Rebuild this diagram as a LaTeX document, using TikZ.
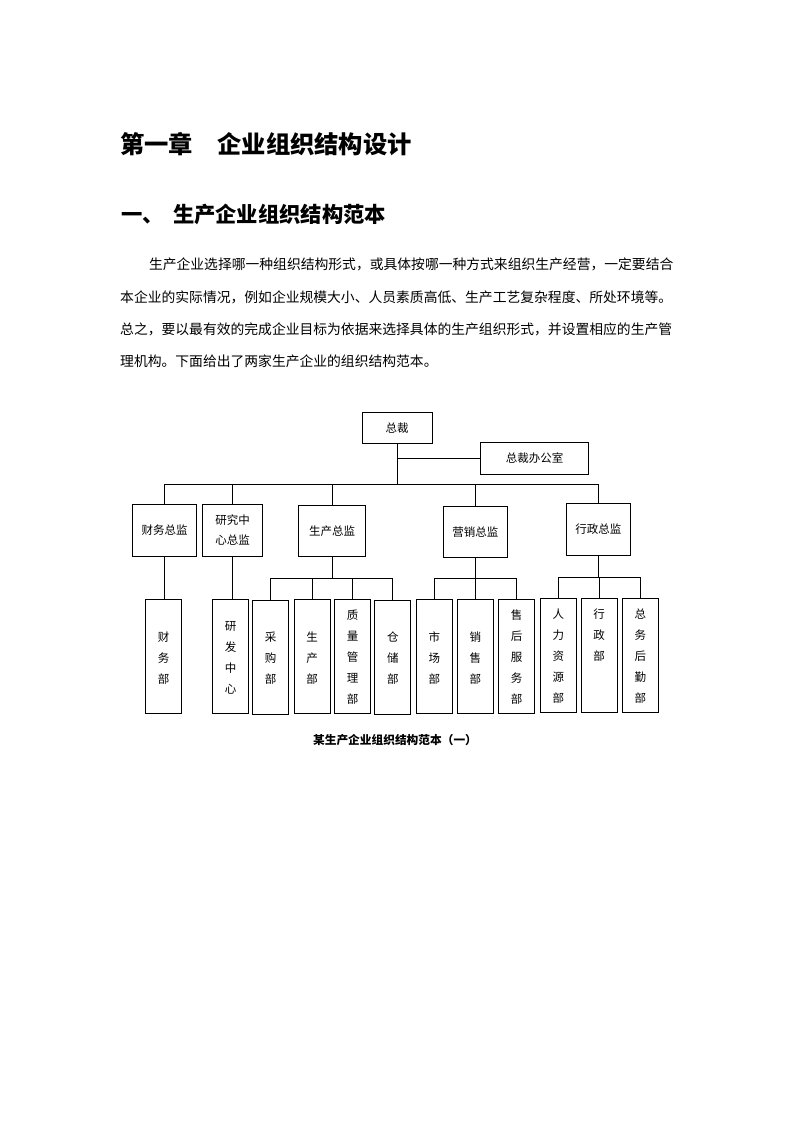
\documentclass[tikz,border=0pt]{standalone}
\usepackage{fontspec}
\newfontfamily\cjk{Noto Sans CJK SC}
\newcommand\dfont{\fontsize{11.5}{20}\selectfont\cjk}
\newcommand\vfont{\fontsize{11.5}{21}\selectfont\cjk}
\begin{document}
\begin{tikzpicture}[x=1pt,y=-1pt,
  box/.style={draw, line width=0.9pt, inner sep=0pt, align=center, font=\dfont},
  vbox/.style={draw, line width=0.9pt, inner sep=0pt, minimum width=36, minimum height=114},
  vlab/.style={font=\vfont, align=center, inner sep=0pt},
  conn/.style={line width=0.9pt},
  txt/.style={inner sep=0pt, anchor=west}]
\path[use as bounding box, fill=white] (0,0) rectangle (793,1122);

% headings and body
\node[txt, font=\fontsize{24.3}{28}\selectfont\cjk\bfseries] (title) at (120,144) {第一章　企业组织结构设计};
\node[txt, font=\fontsize{21.3}{26}\selectfont\cjk\bfseries] (head) at (121,214) {一、\hspace{9.3pt}生产企业组织结构范本};
\node[txt, font=\fontsize{13.8}{16}\selectfont\cjk] (p1) at (148.8,264.8) {生产企业选择哪一种组织结构形式，或具体按哪一种方式来组织生产经营，一定要结合};
\node[txt, font=\fontsize{13.8}{16}\selectfont\cjk] (p2) at (120,297) {本企业的实际情况，例如企业规模大小、人员素质高低、生产工艺复杂程度、所处环境等。};
\node[txt, font=\fontsize{13.8}{16}\selectfont\cjk] (p3) at (120,329.2) {总之，要以最有效的完成企业目标为依据来选择具体的生产组织形式，并设置相应的生产管};
\node[txt, font=\fontsize{13.8}{16}\selectfont\cjk] (p4) at (120,361.4) {理机构。下面给出了两家生产企业的组织结构范本。};

% top
\node[box, minimum width=70, minimum height=31] (zc) at (397,427.8) {总裁};
\node[box, minimum width=108, minimum height=31.3] (office) at (534.7,458.3) {总裁办公室};

% directors
\node[box, minimum width=64, minimum height=52.3] (d1) at (164.7,530.2) {财务总监};
\node[box, minimum width=60.4, minimum height=52.3] (d2) at (232.5,530.2) {研究中\\心总监};
\node[box, minimum width=66.6, minimum height=51] (d3) at (332,530.8) {生产总监};
\node[box, minimum width=63.8, minimum height=51.3] (d4) at (475.4,531.7) {营销总监};
\node[box, minimum width=64, minimum height=52.3] (d5) at (598.3,529.2) {行政总监};

% departments
\node[vbox, label={[vlab, yshift=-1.5]center:财\\务\\部}] (b1) at (163.7,656.2) {};
\node[vbox, label={[vlab, yshift=-1.5]center:研\\发\\中\\心}] (b2) at (230.5,656.2) {};
\node[vbox, label={[vlab, yshift=-1.5]center:采\\购\\部}] (b3) at (270.5,657) {};
\node[vbox, label={[vlab, yshift=-1.5]center:生\\产\\部}] (b4) at (312.2,656.5) {};
\node[vbox, label={[vlab, yshift=-1]center:质\\量\\管\\理\\部}] (b5) at (352.5,656.5) {};
\node[vbox, label={[vlab, yshift=-1.5]center:仓\\储\\部}] (b6) at (392.8,657) {};
\node[vbox, label={[vlab, yshift=-1.5]center:市\\场\\部}] (b7) at (434.3,656.5) {};
\node[vbox, label={[vlab, yshift=-1.5]center:销\\售\\部}] (b8) at (475.3,656.5) {};
\node[vbox, label={[vlab, yshift=-1]center:售\\后\\服\\务\\部}] (b9) at (516.7,656) {};
\node[vbox, label={[vlab, yshift=-0.5]center:人\\力\\资\\源\\部}] (b10) at (558.3,655.5) {};
\node[vbox, label={[vlab, yshift=20.5]center:行\\政\\部}] (b11) at (599.2,655.5) {};
\node[vbox, label={[vlab, yshift=-0.5]center:总\\务\\后\\勤\\部}] (b12) at (640.3,655.5) {};

% caption
\node[inner sep=0pt, font=\fontsize{11.7}{14}\selectfont\cjk\bfseries] (cap) at (395,740) {某生产企业组织结构范本（一）};

% connectors
\coordinate (jo) at (397,458.3);
\coordinate (bar) at (397,484);
\draw[conn] (zc.south) -- (bar);
\draw[conn] (jo) -- (office.west);
\draw[conn] (d1.north |- bar) -- (d5.north |- bar);
\foreach \d in {d1,d2,d3,d4,d5} \draw[conn] (\d.north |- bar) -- (\d.north);

\draw[conn] (d1.south) -- (d1.south |- b1.north);
\draw[conn] (d2.south) -- (d2.south |- b2.north);

\coordinate (s3) at (332,578.3);
\draw[conn] (d3.south) -- (s3);
\draw[conn] (b3.north |- s3) -- (b6.north |- s3);
\foreach \b in {b3,b4,b5,b6} \draw[conn] (\b.north |- s3) -- (\b.north);

\coordinate (s4) at (475.4,578.3);
\draw[conn] (d4.south) -- (s4);
\draw[conn] (b7.north |- s4) -- (b9.north |- s4);
\foreach \b in {b7,b8,b9} \draw[conn] (\b.north |- s4) -- (\b.north);

\coordinate (s5) at (598.3,577.3);
\draw[conn] (d5.south) -- (s5);
\draw[conn] (b10.north |- s5) -- (b12.north |- s5);
\foreach \b in {b10,b11,b12} \draw[conn] (\b.north |- s5) -- (\b.north);
\end{tikzpicture}
\end{document}
